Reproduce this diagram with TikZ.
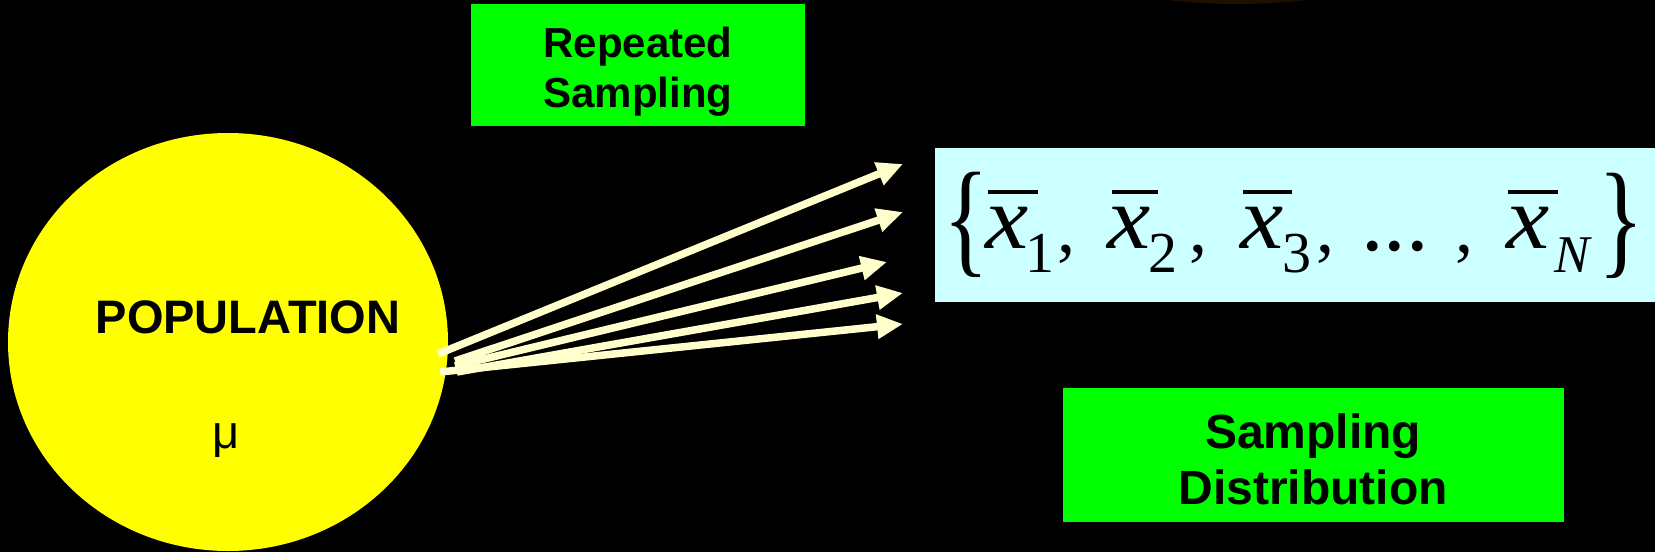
\documentclass[tikz,border=0pt]{standalone}
\usepackage{fontspec}
\usepackage{graphicx}
\setmainfont{Liberation Sans}
\newfontfamily\seriffont{Liberation Serif}
\usetikzlibrary{arrows.meta,shapes.geometric}
\definecolor{popyellow}{HTML}{FFFF00}
\definecolor{boxgreen}{HTML}{00FF00}
\definecolor{setcyan}{HTML}{CCFFFF}
\definecolor{arrowcream}{HTML}{FFFFCC}
\definecolor{topbrown}{HTML}{1E1000}
\begin{document}
\begin{tikzpicture}[x=1pt,y=-1pt,
  samplearrow/.style={draw=arrowcream, line width=7.5pt, -{Triangle[length=26pt,width=23pt]}},
  greenbox/.style={fill=boxgreen, inner sep=0pt, anchor=north west},
  labeltxt/.style={inner sep=0pt, anchor=base, text=black},
  mathx/.style={inner sep=0pt, anchor=base, font=\seriffont\itshape\fontsize{90}{90}\selectfont},
  subnum/.style={inner sep=0pt, anchor=base, font=\seriffont\fontsize{58}{58}\selectfont},
  subN/.style={inner sep=0pt, anchor=base, font=\seriffont\itshape\fontsize{53}{53}\selectfont},
  commastyle/.style={inner sep=0pt, anchor=center, font=\seriffont\fontsize{72}{72}\selectfont},
  dotsstyle/.style={inner sep=0pt, anchor=center, font=\seriffont\fontsize{90}{90}\selectfont},
  bracestyle/.style={inner sep=0pt, anchor=center, font=\seriffont\fontsize{95}{95}\selectfont},
  xbar/.style={draw=black, line width=4pt}
]
\useasboundingbox (0,0) rectangle (1655,552);
\fill[black] (0,0) rectangle (1655,552);
\fill[topbrown] (1237,-606) circle [radius=610];

% population
\node[ellipse, fill=popyellow, minimum width=440pt, minimum height=418pt, inner sep=0pt] (pop) at (228,342) {};
\node[labeltxt, font=\fontsize{47}{56}\selectfont\bfseries] (poptext) at (248,333) {POPULATION};
\node[labeltxt, font=\fontsize{47}{56}\selectfont] (mu) at (226,448) {μ};

% green boxes
\node[greenbox, minimum width=334pt, minimum height=122pt] (rsbox) at (471,4) {};
\node[labeltxt, font=\fontsize{42}{50}\selectfont\bfseries] (rs1) at (638,57) {Repeated};
\node[labeltxt, font=\fontsize{42}{50}\selectfont\bfseries] (rs2) at (638,107) {Sampling};

\node[greenbox, minimum width=501pt, minimum height=134pt] (sdbox) at (1063,388) {};
\node[labeltxt, font=\fontsize{48}{57}\selectfont\bfseries] (sd1) at (1313,448) {Sampling};
\node[labeltxt, font=\fontsize{48}{57}\selectfont\bfseries] (sd2) at (1313,504) {Distribution};

% set of sample means
\node[fill=setcyan, minimum width=725pt, minimum height=154pt, inner sep=0pt, anchor=north west] (setbox) at (935,148) {};
\node[bracestyle] (lb) at (966,225) {\scalebox{1}[1.34]{\{}};
\node[mathx] (x1) at (1007,248) {\scalebox{1.08}[1]{x}};
\node[subnum] (n1) at (1040,272) {1};
\node[commastyle] (c1) at (1066,254) {,};
\node[mathx] (x2) at (1129,248) {\scalebox{1.08}[1]{x}};
\node[subnum] (n2) at (1163,272) {2};
\node[commastyle] (c2) at (1198,254) {,};
\node[mathx] (x3) at (1262,248) {\scalebox{1.08}[1]{x}};
\node[subnum] (n3) at (1297,272) {3};
\node[commastyle] (c3) at (1325,254) {,};
\node[dotsstyle] (dots) at (1395,246) {...};
\node[commastyle] (c4) at (1464,254) {,};
\node[mathx] (xN) at (1528,248) {\scalebox{1.08}[1]{x}};
\node[subN] (nN) at (1572,272) {N};
\node[bracestyle] (rb) at (1621,226) {\scalebox{1}[1.34]{\}}};
\draw[xbar] ([shift={(-19,-56)}]x1.base) -- ([shift={(31,-56)}]x1.base);
\draw[xbar] ([shift={(-17,-56)}]x2.base) -- ([shift={(29,-56)}]x2.base);
\draw[xbar] ([shift={(-19,-56)}]x3.base) -- ([shift={(30,-56)}]x3.base);
\draw[xbar] ([shift={(-20,-56)}]xN.base) -- ([shift={(30,-56)}]xN.base);

% arrows
\coordinate (p1) at (438,354); \coordinate (q1) at (903,164);
\coordinate (p2) at (455,361); \coordinate (q2) at (903,212);
\coordinate (p3) at (455,366); \coordinate (q3) at (887,262);
\coordinate (p4) at (457,372); \coordinate (q4) at (903,293);
\coordinate (p5) at (440,372); \coordinate (q5) at (903,324);
\draw[samplearrow] (p1) -- (q1);
\draw[samplearrow] (p2) -- (q2);
\draw[samplearrow] (p3) -- (q3);
\draw[samplearrow] (p4) -- (q4);
\draw[samplearrow] (p5) -- (q5);
\end{tikzpicture}
\end{document}
